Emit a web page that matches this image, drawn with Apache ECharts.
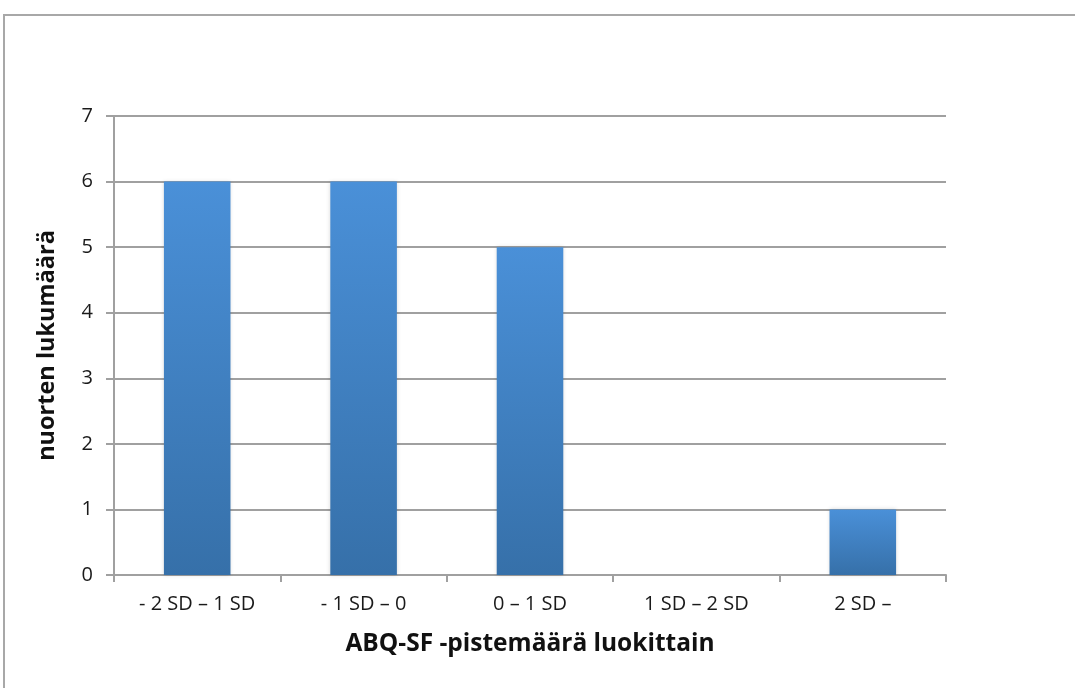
<!DOCTYPE html>
<html>
<head>
<meta charset="utf-8">
<script src="https://cdn.jsdelivr.net/npm/echarts@6/dist/echarts.min.js"></script>
<style>
  html, body { margin: 0; padding: 0; background: #fff; }
  #chart { width: 1075px; height: 688px; }
</style>
</head>
<body>
<div id="chart"></div>
<script>
// Score classes (ABQ-SF) and the number of young people in each
const categories = ['- 2 SD – 1 SD', '- 1 SD – 0', '0 – 1 SD', '1 SD – 2 SD', '2 SD –'];
const counts = [6, 6, 5, 0, 1];
const yTicks = [0, 1, 2, 3, 4, 5, 6, 7];

const chart = echarts.init(document.getElementById('chart'));
const font = '"Open Sans", "Noto Sans", sans-serif';

chart.setOption({
  backgroundColor: '#ffffff',
  animation: false,
  graphic: [{
    type: 'rect',
    shape: { x: 4, y: 15, width: 1200, height: 800 },
    style: { fill: 'none', stroke: '#a8a8a8', lineWidth: 2 },
    silent: true
  }],
  grid: { left: 114, right: 129, top: 116, bottom: 113 },
  xAxis: {
    type: 'category',
    data: categories,
    name: 'ABQ-SF -pistemäärä luokittain',
    nameLocation: 'middle',
    nameGap: 57,
    nameTextStyle: { fontFamily: font, fontSize: 24.5, fontWeight: 'bold', color: '#111' },
    axisLine: { lineStyle: { color: '#a0a0a0', width: 2 } },
    axisTick: { show: true, alignWithLabel: false, length: 7, lineStyle: { color: '#a0a0a0', width: 2 } },
    axisLabel: { fontFamily: font, fontSize: 20, color: '#1a1a1a', margin: 19 },
    splitLine: { show: false }
  },
  yAxis: {
    type: 'value',
    min: yTicks[0],
    max: yTicks[yTicks.length - 1],
    interval: 1,
    name: 'nuorten lukumäärä',
    nameLocation: 'middle',
    nameGap: 55,
    nameTextStyle: { fontFamily: font, fontSize: 23.5, fontWeight: 'bold', color: '#111' },
    axisLine: { show: true, lineStyle: { color: '#a0a0a0', width: 2 } },
    axisTick: { show: true, length: 8, lineStyle: { color: '#a0a0a0', width: 2 } },
    axisLabel: { fontFamily: font, fontSize: 20, color: '#1a1a1a', margin: 21 },
    splitLine: { show: true, lineStyle: { color: '#a0a0a0', width: 2 } }
  },
  series: [{
    type: 'bar',
    data: counts,
    barWidth: '40%',
    itemStyle: {
      color: new echarts.graphic.LinearGradient(0, 0, 0, 1, [
        { offset: 0, color: '#4a90d8' },
        { offset: 1, color: '#3670a9' }
      ]),
      shadowColor: 'rgba(0,0,0,0.15)',
      shadowBlur: 4
    }
  }]
});
</script>
</body>
</html>
